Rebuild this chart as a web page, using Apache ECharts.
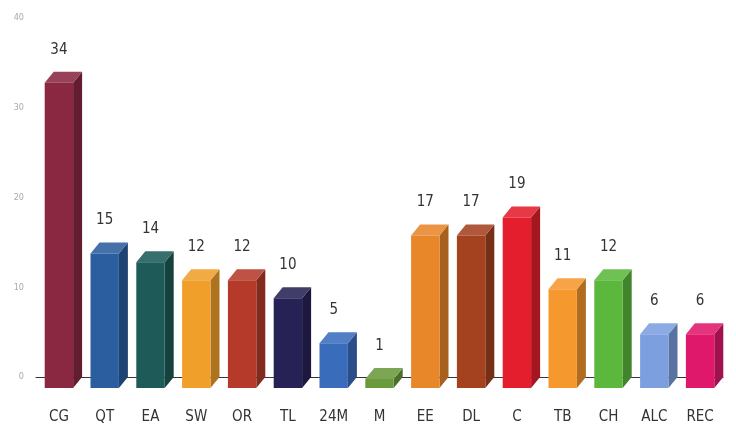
<!DOCTYPE html>
<html>
<head>
<meta charset="utf-8">
<script src="https://cdn.jsdelivr.net/npm/echarts@6/dist/echarts.min.js"></script>
<style>
  html, body { margin: 0; padding: 0; background: #fff; }
  #chart { width: 736px; height: 430px; }
</style>
</head>
<body>
<div id="chart"></div>
<script>
// values
var categories = ['CG', 'QT', 'EA', 'SW', 'OR', 'TL', '24M', 'M', 'EE', 'DL', 'C', 'TB', 'CH', 'ALC', 'REC'];
var counts = [34, 15, 14, 12, 12, 10, 5, 1, 17, 17, 19, 11, 12, 6, 6];
var yTicks = [0, 10, 20, 30, 40];
var barColors = ['#8a2842', '#2a5e9e', '#1d5a58', '#f0a02a', '#b53a2a', '#272256', '#3a6cbc', '#6a9a3c',
  '#e8862a', '#a4421f', '#e41e2c', '#f5982e', '#5cb83c', '#7c9fe0', '#e0186c'];

var narrow = "'Liberation Sans Narrow', 'DejaVu Sans Condensed', 'Arial Narrow', sans-serif";
var DX = 9, DY = 11;

// k < 1 darkens, mix > 0 moves toward white
function shade(hex, k, mix) {
  var n = parseInt(hex.slice(1), 16);
  var rgb = [(n >> 16) & 255, (n >> 8) & 255, n & 255].map(function (v) {
    v = v * k;
    v = v + (255 - v) * mix;
    return Math.round(Math.min(255, v));
  });
  return 'rgb(' + rgb.join(',') + ')';
}

function renderBox(params, api) {
  var idx = params.dataIndex;
  var top = api.coord([api.value(0), api.value(1)]);
  var base = api.coord([api.value(0), 0]);
  var w = api.size([1, 0])[0] * 0.62;
  var x0 = top[0] - w / 2, x1 = top[0] + w / 2;
  var yt = top[1] + DY, yb = base[1] + DY;
  var c = barColors[idx];
  return {
    type: 'group',
    children: [
      // side face, darker
      { type: 'polygon', shape: { points: [[x1, yt], [x1 + DX, yt - DY], [x1 + DX, yb - DY], [x1, yb]] },
        style: { fill: shade(c, 0.72, 0) } },
      // top face, lighter
      { type: 'polygon', shape: { points: [[x0, yt], [x0 + DX, yt - DY], [x1 + DX, yt - DY], [x1, yt]] },
        style: { fill: shade(c, 1, 0.12) } },
      { type: 'rect', shape: { x: x0, y: yt, width: w, height: yb - yt },
        style: { fill: c } },
      { type: 'text', x: top[0], y: top[1] - 22,
        style: { text: String(api.value(1)), align: 'center', verticalAlign: 'middle',
          fontSize: 15, fontFamily: narrow, fill: '#333' } }
    ]
  };
}

var chart = echarts.init(document.getElementById('chart'), null, { renderer: 'canvas' });
chart.setOption({
  backgroundColor: '#fff',
  animation: false,
  grid: { left: 36, right: 13, top: 18, bottom: 53 },
  xAxis: {
    type: 'category',
    data: categories,
    axisLine: { lineStyle: { color: '#3a3333', width: 1 } },
    axisTick: { show: false },
    axisLabel: { fontSize: 15, fontFamily: narrow, color: '#333', margin: 33 }
  },
  yAxis: {
    type: 'value',
    min: yTicks[0],
    max: yTicks[yTicks.length - 1],
    interval: 10,
    axisLine: { show: false },
    axisTick: { show: false },
    splitLine: { show: false },
    axisLabel: { fontSize: 9, fontFamily: narrow, color: '#aaa', margin: 12 }
  },
  series: [{
    type: 'custom',
    clip: false,
    renderItem: renderBox,
    data: counts.map(function (v, i) { return [i, v]; })
  }]
});
</script>
</body>
</html>
